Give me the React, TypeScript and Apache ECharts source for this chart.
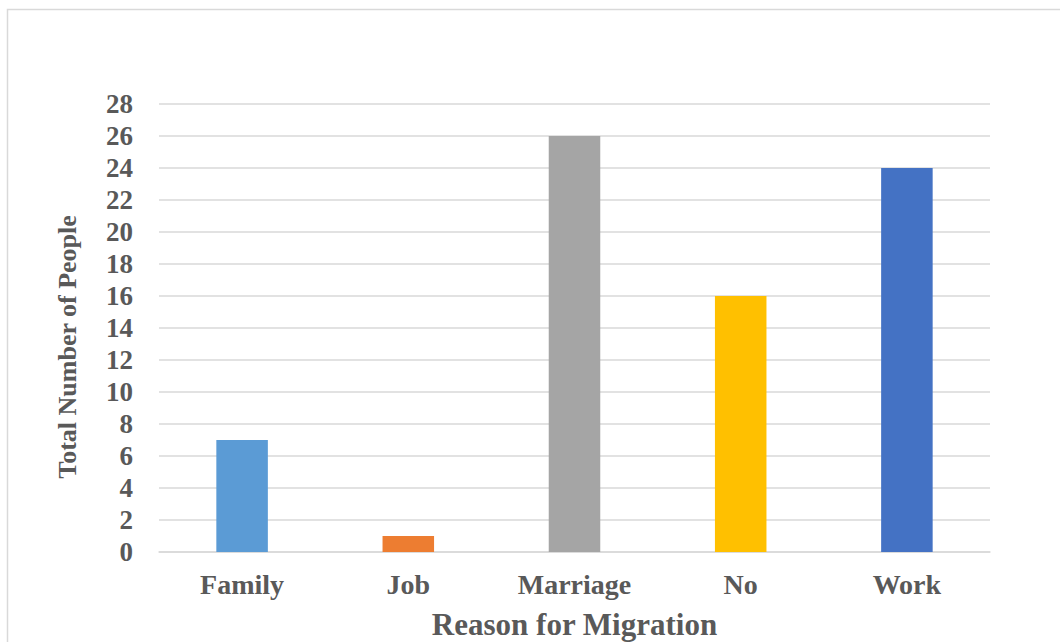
import React, { useEffect, useRef } from "react";
import * as echarts from "echarts";

const categories = ["Family", "Job", "Marriage", "No", "Work"];
const values = [7, 1, 26, 16, 24];
const colors = ["#5B9BD5", "#ED7D31", "#A5A5A5", "#FFC000", "#4472C4"];
const yTitle = "Total Number of People";
const xTitle = "Reason for Migration";

const FONT = '"Liberation Serif", "Times New Roman", serif';

export default function App() {
  const ref = useRef<HTMLDivElement>(null);
  useEffect(() => {
    document.body.style.margin = "0";
    const chart = echarts.init(ref.current!, null, { renderer: "svg" });
    chart.setOption({
      animation: false,
      backgroundColor: "#ffffff",
      graphic: [
        {
          type: "rect",
          shape: { x: 7.5, y: 9.5, width: 1100, height: 700 },
          style: { fill: "none", stroke: "#d9d9d9", lineWidth: 1.5 },
          silent: true,
        },
        {
          type: "text",
          x: 67,
          y: 347,
          rotation: Math.PI / 2,
          style: {
            text: yTitle,
            fill: "#595959",
            font: `bold 26px ${FONT}`,
            align: "center",
            verticalAlign: "middle",
          },
          silent: true,
        },
      ],
      grid: {
        left: 159,
        right: 70,
        top: 104,
        bottom: 90,
        containLabel: false,
        outerBoundsMode: "none",
      },
      xAxis: {
        type: "category",
        data: categories,
        axisTick: { show: false },
        axisLine: { show: true, lineStyle: { color: "#d9d9d9", width: 1.5 } },
        axisLabel: {
          color: "#595959",
          fontFamily: FONT,
          fontWeight: "bold",
          fontSize: 28,
          margin: 18,
        },
        name: xTitle,
        nameLocation: "middle",
        nameGap: 57,
        nameTextStyle: {
          color: "#595959",
          fontFamily: FONT,
          fontWeight: "bold",
          fontSize: 31,
        },
      },
      yAxis: {
        type: "value",
        min: 0,
        max: 28,
        interval: 2,
        axisLine: { show: false },
        axisTick: { show: false },
        splitLine: { lineStyle: { color: "#d9d9d9", width: 1.5 } },
        axisLabel: {
          color: "#595959",
          fontFamily: FONT,
          fontWeight: "bold",
          fontSize: 27,
          margin: 26,
        },
      },
      series: [
        {
          type: "bar",
          barWidth: "31%",
          data: values.map((v, i) => ({ value: v, itemStyle: { color: colors[i] } })),
        },
      ],
    });
    return () => chart.dispose();
  }, []);
  return <div ref={ref} style={{ width: 1060, height: 642 }} />;
}
